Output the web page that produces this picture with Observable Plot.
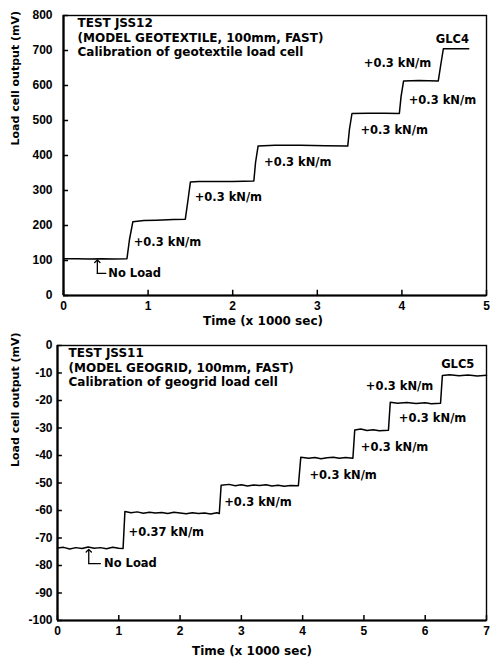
<!DOCTYPE html>
<html>
<head>
<meta charset="utf-8">
<script src="https://cdn.jsdelivr.net/npm/d3@7"></script>
<script src="https://cdn.jsdelivr.net/npm/@observablehq/plot@0.6"></script>
<style>
  body { margin: 0; background: #fff; }
  #wrap { width: 490px; font-family: "Liberation Sans", Arial, sans-serif; }
  svg { display: block; }
  g[aria-label="text"] text { font-family: "DejaVu Sans", sans-serif; }
</style>
</head>
<body>
<div id="wrap"></div>
<script>
// ---- Top chart (JSS12) data ----
const timeA = [0, 0.15, 0.3, 0.45, 0.6, 0.75, 0.78, 0.82, 0.95, 1.1, 1.3, 1.44, 1.47, 1.5, 1.6, 1.8, 2.0, 2.25, 2.27, 2.3, 2.5, 2.8, 3.1, 3.36, 3.38, 3.41, 3.6, 3.8, 3.97, 3.99, 4.02, 4.2, 4.43, 4.46, 4.49, 4.65, 4.79];
const loadA = [105, 105, 104, 105, 104, 105, 160, 211, 214, 215, 217, 218, 270, 324, 326, 326, 326, 327, 380, 427, 429, 429, 428, 427, 475, 520, 521, 521, 520, 568, 613, 614, 613, 660, 705, 705, 705];
const yTicksA = [0, 100, 200, 300, 400, 500, 600, 700, 800];
const xTicksA = [0, 1, 2, 3, 4, 5];
const titleA = "TEST JSS12\n(MODEL GEOTEXTILE, 100mm, FAST)\nCalibration of geotextile load cell";
const annotA = [
  {x: 0.83, y: 151, text: "+0.3 kN/m"},
  {x: 1.55, y: 280, text: "+0.3 kN/m"},
  {x: 2.37, y: 380, text: "+0.3 kN/m"},
  {x: 3.51, y: 471, text: "+0.3 kN/m"},
  {x: 4.08, y: 557, text: "+0.3 kN/m"},
  {x: 3.55, y: 663, text: "+0.3 kN/m"},
  {x: 4.40, y: 731, text: "GLC4"},
  {x: 0.53, y: 63, text: "No Load"}
];
const arrowA = [{x: 0.40, y: 63}, {x: 0.40, y: 98}];
const arrowA2 = [{x: 0.40, y: 63}, {x: 0.50, y: 63}];

// ---- Bottom chart (JSS11) data ----
const timeB = [0, 0.1, 0.2, 0.3, 0.4, 0.5, 0.6, 0.7, 0.8, 0.9, 1.0, 1.07, 1.1, 1.2, 1.3, 1.4, 1.5, 1.6, 1.7, 1.8, 1.9, 2.0, 2.1, 2.2, 2.3, 2.4, 2.5, 2.6, 2.64, 2.67, 2.8, 2.9, 3.0, 3.1, 3.2, 3.3, 3.4, 3.5, 3.6, 3.7, 3.8, 3.93, 3.97, 4.1, 4.2, 4.3, 4.4, 4.5, 4.6, 4.7, 4.82, 4.85, 4.95, 5.05, 5.15, 5.25, 5.4, 5.43, 5.55, 5.7, 5.85, 6.0, 6.1, 6.25, 6.28, 6.4, 6.55, 6.7, 6.85, 7.0];
const loadB = [-73.6, -73.4, -74.0, -73.5, -73.8, -73.3, -73.7, -73.5, -73.9, -73.4, -73.7, -73.8, -60.4, -60.8, -60.5, -61.0, -60.6, -60.9, -60.7, -61.1, -60.6, -60.9, -61.2, -60.8, -61.1, -60.9, -61.3, -60.8, -61.1, -50.8, -50.5, -51.0, -50.6, -51.1, -50.7, -50.9, -50.6, -51.1, -50.8, -51.2, -50.9, -51.0, -40.6, -41.0, -40.7, -41.2, -40.8, -40.6, -41.0, -40.7, -41.0, -30.7, -30.4, -30.9, -30.6, -31.0, -30.8, -20.6, -21.0, -20.7, -21.1, -20.8, -21.2, -21.0, -10.9, -10.6, -11.0, -10.7, -11.1, -10.8];
const yTicksB = [0, -10, -20, -30, -40, -50, -60, -70, -80, -90, -100];
const xTicksB = [0, 1, 2, 3, 4, 5, 6, 7];
const titleB = "TEST JSS11\n(MODEL GEOGRID, 100mm, FAST)\nCalibration of geogrid load cell";
const annotB = [
  {x: 1.16, y: -68, text: "+0.37 kN/m"},
  {x: 2.72, y: -57, text: "+0.3 kN/m"},
  {x: 4.11, y: -47.3, text: "+0.3 kN/m"},
  {x: 4.95, y: -37, text: "+0.3 kN/m"},
  {x: 5.57, y: -26.5, text: "+0.3 kN/m"},
  {x: 5.03, y: -15, text: "+0.3 kN/m"},
  {x: 6.26, y: -6.7, text: "GLC5"},
  {x: 0.76, y: -79.3, text: "No Load"}
];
const arrowB = [{x: 0.51, y: -79.3}, {x: 0.51, y: -74.6}];
const arrowB2 = [{x: 0.51, y: -79.3}, {x: 0.70, y: -79.3}];

const xLabel = "Time (x 1000 sec)";
const yLabel = "Load cell output (mV)";
const FONT = "'Liberation Sans', Arial, sans-serif";

function chart({time, load, xDomain, yDomain, xTicks, yTicks, title, annot, arrow, arrow2,
                height, mL, mT, mB, yPad, xLabDx, xLabDy, yLabDx, yLabDy, titleDx, tickLenY, tickLenX}) {
  const series = time.map((t, i) => ({t, v: load[i]}));
  return Plot.plot({
    width: 490, height,
    marginLeft: mL, marginRight: 4, marginTop: mT, marginBottom: mB,
    style: {fontFamily: FONT, background: "#fff", color: "#000"},
    x: {domain: xDomain},
    y: {domain: yDomain},
    marks: [
      Plot.frame({stroke: "#000", strokeWidth: 1.4}),
      Plot.ruleX([xDomain[0]], {stroke: "#000", strokeWidth: 2.2}),
      Plot.ruleY([yDomain[0]], {stroke: "#000", strokeWidth: 2.2}),
      // inward ticks
      Plot.ruleY(yTicks, {y: d => d, x1: xDomain[0], x2: xDomain[0] + tickLenY, stroke: "#000", strokeWidth: 1.5}),
      Plot.ruleX(xTicks, {x: d => d, y1: yDomain[0], y2: yDomain[0] + tickLenX, stroke: "#000", strokeWidth: 1.5}),
      Plot.axisY({ticks: yTicks, tickSize: 0, tickPadding: yPad, label: null, fontSize: 12, fontWeight: "bold", tickFormat: d => String(d)}),
      Plot.axisX({ticks: xTicks, tickSize: 0, tickPadding: 6, label: null, fontSize: 12, fontWeight: "bold", tickFormat: d => String(d)}),
      Plot.text([xLabel], {frameAnchor: "bottom", text: d => d, dx: xLabDx, dy: xLabDy, fontSize: 12, fontWeight: "bold"}),
      Plot.text([yLabel], {frameAnchor: "left", text: d => d, rotate: -90, dx: yLabDx, dy: yLabDy, fontSize: 11, fontWeight: "bold"}),
      Plot.line(series, {x: "t", y: "v", stroke: "#000", strokeWidth: 1.5}),
      Plot.text([title], {frameAnchor: "top-left", text: d => d, dx: titleDx, dy: 2, fontSize: 12, fontWeight: "bold", lineHeight: 1.17, textAnchor: "start"}),
      Plot.text(annot, {x: "x", y: "y", text: "text", textAnchor: "start", fontSize: 11.5, fontWeight: "bold"}),
      Plot.line(arrow2, {x: "x", y: "y", stroke: "#000", strokeWidth: 1.3}),
      Plot.line(arrow, {x: "x", y: "y", stroke: "#000", strokeWidth: 1.3, markerEnd: "arrow"})
    ]
  });
}

const wrap = document.getElementById("wrap");
wrap.appendChild(chart({
  time: timeA, load: loadA, xDomain: [0, 5], yDomain: [0, 800], xTicks: xTicksA, yTicks: yTicksA,
  title: titleA, annot: annotA, arrow: arrowA, arrow2: arrowA2,
  height: 330, mL: 63, mT: 15, mB: 35, yPad: 11, xLabDx: -12, xLabDy: 29, yLabDx: -48, yLabDy: -10,
  titleDx: 14, tickLenY: 0.06, tickLenX: 15
}));
wrap.appendChild(chart({
  time: timeB, load: loadB, xDomain: [0, 7], yDomain: [-100, 0], xTicks: xTicksB, yTicks: yTicksB,
  title: titleB, annot: annotB, arrow: arrowB, arrow2: arrowB2,
  height: 332, mL: 57, mT: 15, mB: 42, yPad: 5, xLabDx: -20, xLabDy: 34, yLabDx: -42, yLabDy: -16,
  titleDx: 11, tickLenY: 0.08, tickLenX: 1.8
}));
</script>
</body>
</html>
